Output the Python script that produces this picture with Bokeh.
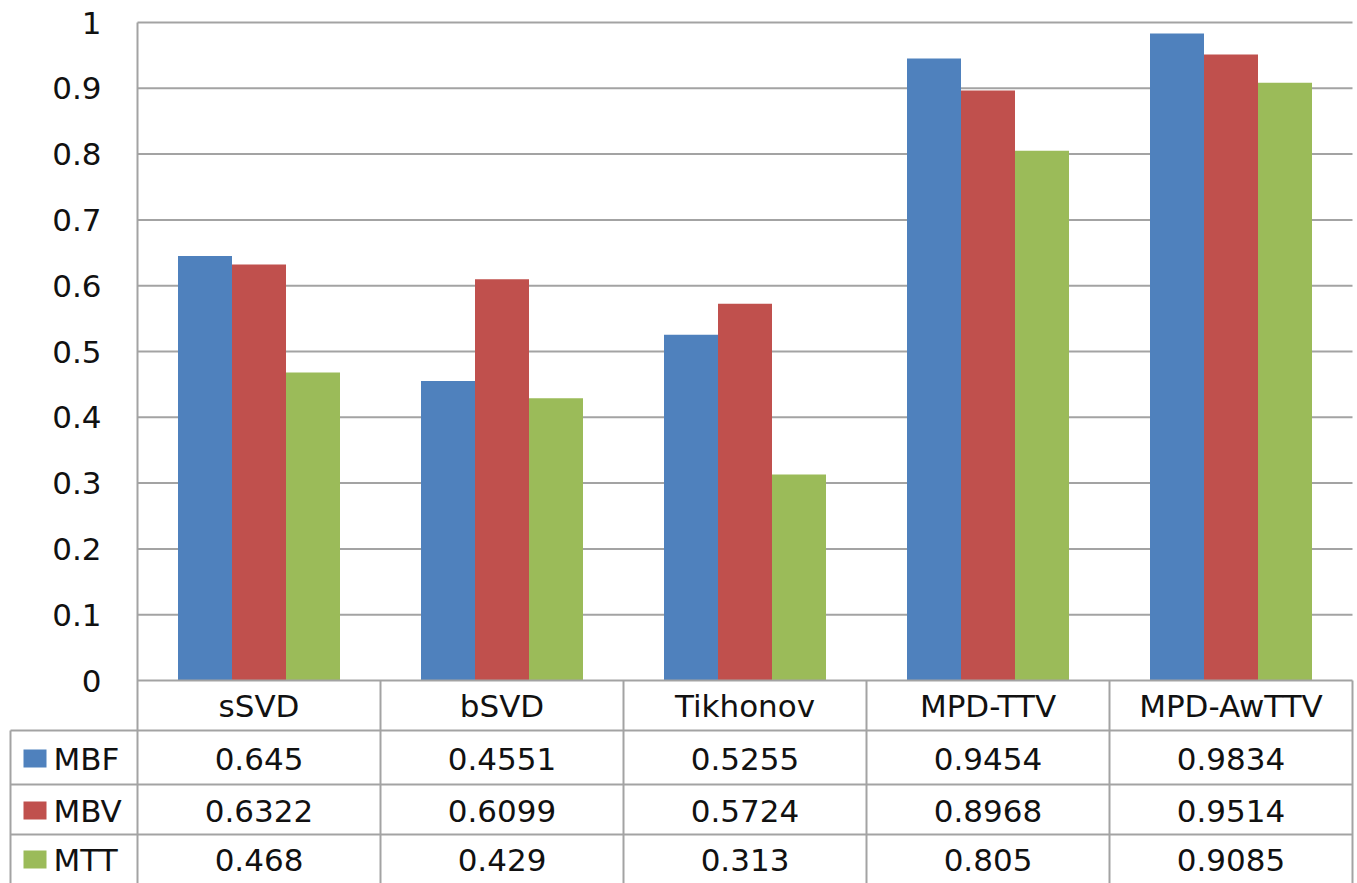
from bokeh.plotting import figure
from bokeh.models import LinearAxis, FixedTicker, Range1d, ColumnDataSource
from bokeh.core.properties import value
from bokeh.embed import file_html
from bokeh.resources import INLINE

# ---------------- data ----------------
categories = ["sSVD", "bSVD", "Tikhonov", "MPD-TTV", "MPD-AwTTV"]
series_names = ["MBF", "MBV", "MTT"]
mbf = [0.645, 0.4551, 0.5255, 0.9454, 0.9834]
mbv = [0.6322, 0.6099, 0.5724, 0.8968, 0.9514]
mtt = [0.468, 0.429, 0.313, 0.805, 0.9085]
y_ticks = [0.0, 0.1, 0.2, 0.3, 0.4, 0.5, 0.6, 0.7, 0.8, 0.9, 1.0]
y_tick_labels = ["0", "0.1", "0.2", "0.3", "0.4", "0.5", "0.6", "0.7", "0.8", "0.9", "1"]
colors = ["#4F81BD", "#C0504D", "#9BBB59"]

# ---------------- layout constants (pixels) ----------------
W, H = 1357, 883
LEFT = 137          # plot-area left edge
PX_X = 243.0        # pixels per category
TOP_ONE = 22        # pixel row of value 1.0
ZERO = 680          # pixel row of value 0
PX_Y = float(ZERO - TOP_ONE)
TABLE_LEFT = 10
ROW_LINES = [730, 784, 834]
ROW_CENTERS = [758, 810, 859]
FONT = "DejaVu Sans"
FS = "31px"
GRID_COLOR = "#a3a3a3"
TEXT_COLOR = "#111111"

def fx(px):
    return (px - LEFT) / PX_X

def fy(py):
    return (ZERO - py) / PX_Y

ncat = len(categories)
x_start, x_end = fx(0), fx(W)
y_start, y_end = fy(H), fy(0)

p = figure(width=W, height=H,
           x_range=Range1d(x_start, x_end), y_range=Range1d(y_start, y_end),
           x_axis_type=None, y_axis_type=None,
           output_backend="svg", toolbar_location=None,
           min_border=0, outline_line_color=None,
           background_fill_color="white", border_fill_color="white")
p.min_border_left = p.min_border_right = p.min_border_top = p.min_border_bottom = 0

# horizontal gridlines (0.1 .. 1.0) across the plot area
gy = [t for t in y_ticks if t > 0]
p.segment(x0=[0] * len(gy), y0=gy, x1=[ncat] * len(gy), y1=gy,
          line_color=GRID_COLOR, line_width=2)

# bars
bw = 1 / 4.5
series_vals = [mbf, mbv, mtt]
for s, (name, vals) in enumerate(zip(series_names, series_vals)):
    src = ColumnDataSource(dict(x=[i + 0.5 + (s - 1) * bw for i in range(ncat)], top=vals))
    p.vbar(x="x", top="top", bottom=0, width=bw, source=src,
           fill_color=colors[s], line_color=None)

# table lines
tl = fx(TABLE_LEFT)
for ry in ROW_LINES:
    p.segment(x0=[tl], y0=[fy(ry)], x1=[ncat], y1=[fy(ry)],
              line_color=GRID_COLOR, line_width=2)
vx = [tl] + list(range(1, ncat + 1))
vtop = [fy(ROW_LINES[0])] + [0] * ncat
p.segment(x0=vx, y0=vtop, x1=vx, y1=[y_start] * len(vx),
          line_color=GRID_COLOR, line_width=2)

# table values
for s, vals in enumerate(series_vals):
    p.text(x=[i + 0.5 for i in range(ncat)], y=[fy(ROW_CENTERS[s])] * ncat,
           text=[str(v) for v in vals], text_align="center", text_baseline="middle",
           text_font=value(FONT), text_font_size=FS, text_color=TEXT_COLOR)

# legend keys in the table's first column
for s, name in enumerate(series_names):
    cy = ROW_CENTERS[s]
    p.quad(left=[fx(23)], right=[fx(46)], top=[fy(cy - 9)], bottom=[fy(cy + 9)],
           fill_color=colors[s], line_color=None)
    p.text(x=[fx(53)], y=[fy(cy)], text=[name], text_align="left", text_baseline="middle",
           text_font=value(FONT), text_font_size=FS, text_color=TEXT_COLOR)

# y axis
yax = LinearAxis(ticker=FixedTicker(ticks=y_ticks), fixed_location=0,
                 bounds=(y_start, 1.0),
                 major_label_overrides=dict(zip(y_ticks, y_tick_labels)))
yax.axis_line_color = GRID_COLOR
yax.axis_line_width = 2
yax.major_tick_in = 0
yax.major_tick_out = 0
yax.minor_tick_in = 0
yax.minor_tick_out = 0
yax.major_label_standoff = 36
yax.major_label_text_font = FONT
yax.major_label_text_font_size = FS
yax.major_label_text_color = TEXT_COLOR
p.add_layout(yax, "left")

# x axis (category names in the table header row)
cat_ticks = [i + 0.5 for i in range(ncat)]
xax = LinearAxis(ticker=FixedTicker(ticks=cat_ticks), fixed_location=0,
                 bounds=(0, ncat),
                 major_label_overrides=dict(zip(cat_ticks, categories)))
xax.axis_line_color = GRID_COLOR
xax.axis_line_width = 2
xax.major_tick_in = 0
xax.major_tick_out = 0
xax.minor_tick_in = 0
xax.minor_tick_out = 0
xax.major_label_standoff = 7
xax.major_label_text_font = FONT
xax.major_label_text_font_size = FS
xax.major_label_text_color = TEXT_COLOR
p.add_layout(xax, "below")

open("out.html", "w").write(file_html(p, INLINE))
